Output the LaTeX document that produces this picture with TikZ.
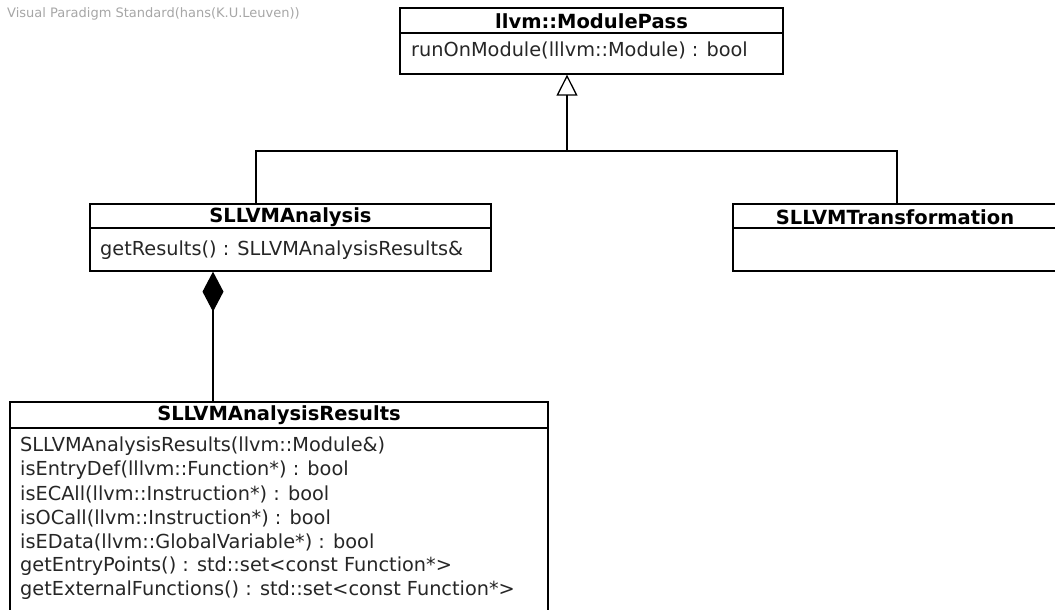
\documentclass[tikz,border=0pt]{standalone}
\usepackage{fontspec}
\setmainfont{DejaVu Sans}
\usetikzlibrary{arrows.meta}
\begin{document}
\begin{tikzpicture}[x=1pt,y=-1pt,
  box/.style={draw=black, line width=1.3pt, inner sep=0pt, fill=white},
  sep/.style={draw=black, line width=1.3pt},
  ttl/.style={font=\fontsize{19.5}{23}\selectfont\bfseries, text=black, inner sep=0pt},
  op/.style={font=\fontsize{19.3}{23}\selectfont, text=black!85, inner sep=0pt, anchor=west},
  wm/.style={font=\fontsize{13}{15}\selectfont, text=black!35, inner sep=0pt, anchor=west},
  conn/.style={draw=black, line width=1.3pt},
  gen/.style={conn, -{Triangle[open, length=21pt, width=21pt, line width=1.3pt]}},
  comp/.style={conn, -{Diamond[length=40pt, width=21pt]}}
]
\useasboundingbox (0,0) rectangle (1055,610);
\clip (0,0) rectangle (1055,610);

\node[wm] (wmk) at (7,14) {Visual Paradigm Standard(hans(K.U.Leuven))};

% llvm::ModulePass
\node[box, minimum width=383pt, minimum height=66pt] (mp) at (591.5,41) {};
\draw[sep] (400,33) -- (783,33);
\node[ttl] (mpt) at (591.5,21) {llvm::ModulePass};
\node[op] (mpo) at (411,50) {runOnModule(lllvm::Module) : bool};

% SLLVMAnalysis
\node[box, minimum width=401pt, minimum height=67pt] (sa) at (290.5,237.5) {};
\draw[sep] (90,228) -- (491,228);
\node[ttl] (sat) at (290.5,217) {SLLVMAnalysis};
\node[op] (sao) at (100,250) {getResults() : SLLVMAnalysisResults\&};

% SLLVMTransformation
\node[box, minimum width=327pt, minimum height=67pt] (st) at (896.5,237.5) {};
\draw[sep] (733,228) -- (1060,228);
\node[ttl] (stt) at (895,217) {SLLVMTransformation};

% SLLVMAnalysisResults
\node[box, minimum width=538pt, minimum height=218pt] (rs) at (279,511) {};
\draw[sep] (10,428) -- (548,428);
\node[ttl] (rst) at (279,415) {SLLVMAnalysisResults};
\node[op] (r1) at (20,446) {SLLVMAnalysisResults(llvm::Module\&)};
\node[op] (r2) at (20,470) {isEntryDef(lllvm::Function*) : bool};
\node[op] (r3) at (20,494) {isECAll(llvm::Instruction*) : bool};
\node[op] (r4) at (20,518) {isOCall(llvm::Instruction*) : bool};
\node[op] (r5) at (20,542) {isEData(llvm::GlobalVariable*) : bool};
\node[op] (r6) at (20,566) {getEntryPoints() : std::set<const Function*>};
\node[op] (r7) at (20,590) {getExternalFunctions() : std::set<const Function*>};

% generalization
\coordinate (j) at (567,151);
\coordinate (ja) at (256,151);
\coordinate (jt) at (897,151);
\draw[gen] (j) -- (mp.south -| j);
\draw[conn] (sa.north -| ja) -- (ja) -- (jt) -- (st.north -| jt);

% composition
\coordinate (d) at (213,0);
\draw[comp] (rs.north -| d) -- (sa.south -| d);
\end{tikzpicture}
\end{document}
